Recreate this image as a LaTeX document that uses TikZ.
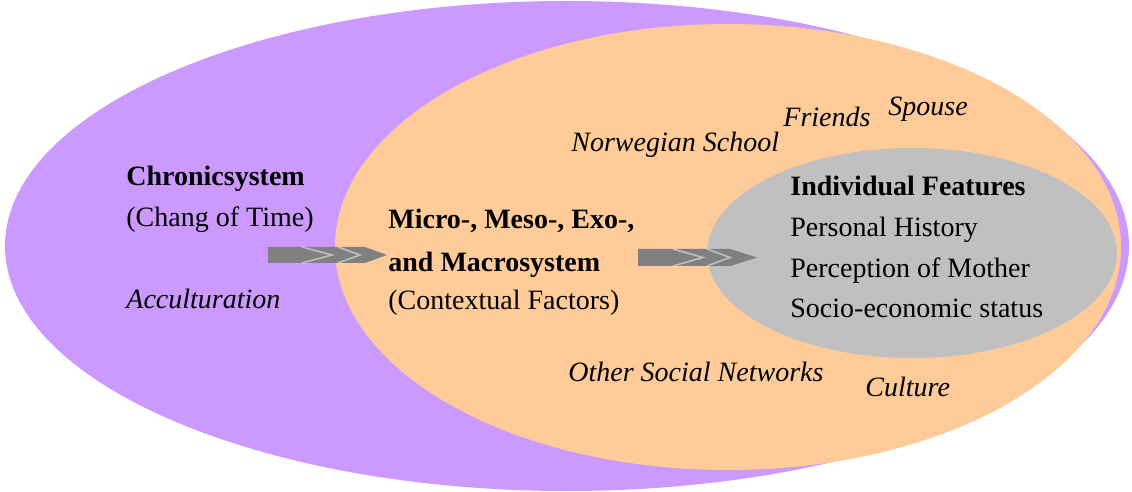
\documentclass[tikz,border=0pt]{standalone}
\usepackage{fontspec}
\setmainfont{Liberation Serif}
\usetikzlibrary{shapes.geometric}
\definecolor{chrono}{HTML}{CC99FF}
\definecolor{context}{HTML}{FFCC99}
\definecolor{person}{HTML}{C0C0C0}
\definecolor{arrowgray}{HTML}{808080}
\begin{document}
\begin{tikzpicture}[x=0.5pt,y=-0.5pt,
        layer/.style={ellipse,inner sep=0pt,draw=none},
        label text/.style={anchor=base west,inner sep=0pt,font=\fontsize{14}{20}\selectfont},
        head text/.style={label text,font=\fontsize{14}{20}\selectfont\bfseries},
        side text/.style={label text,font=\fontsize{14}{20}\selectfont\itshape},
        gap/.style={draw=white,draw opacity=0.5,line width=0.8pt}]
    \useasboundingbox (0,0) rectangle (1132,492);

    \node[layer,fill=chrono,minimum width=562pt,minimum height=245pt] (chrono) at (567,246) {};
    \node[layer,fill=context,minimum width=393pt,minimum height=223pt] (context) at (728,247) {};
    \node[layer,fill=person,minimum width=205pt,minimum height=105pt] (person) at (912,253) {};

    % outer system
    \node[head text] (c1) at (126,186) {Chronicsystem};
    \node[label text] (c2) at (126,227) {(Chang of Time)};
    \node[side text] (c3) at (126,308) {Acculturation};

    % middle system
    \node[head text] (m1) at (388,229) {Micro-, Meso-, Exo-,};
    \node[head text] (m2) at (388,272) {and Macrosystem};
    \node[label text] (m3) at (388,310) {(Contextual Factors)};
    \node[side text] (school) at (571,152) {Norwegian School};
    \node[side text] (friends) at (783,127) {Friends};
    \node[side text] (spouse) at (888,116) {Spouse};
    \node[side text] (networks) at (568,381) {Other Social Networks};
    \node[side text] (culture) at (865,396) {Culture};

    % inner system
    \node[head text] (p1) at (790,196) {Individual Features};
    \node[label text] (p2) at (790,237) {Personal History};
    \node[label text] (p3) at (790,278) {Perception of Mother};
    \node[label text] (p4) at (790,318) {Socio-economic status};

    % arrows
    \fill[arrowgray] (268,247) -- (365,247) -- (387,255) -- (365,263) -- (268,263) -- cycle;
    \draw[gap] (302,247) -- (332,255) -- (302,263);
    \draw[gap] (338,247) -- (360,255) -- (338,263);
    \fill[arrowgray] (638,249) -- (730,249) -- (757,257.5) -- (730,266) -- (638,266) -- cycle;
    \draw[gap] (673,249) -- (703,257.5) -- (673,266);
    \draw[gap] (707,249) -- (730,257.5) -- (707,266);
\end{tikzpicture}
\end{document}
